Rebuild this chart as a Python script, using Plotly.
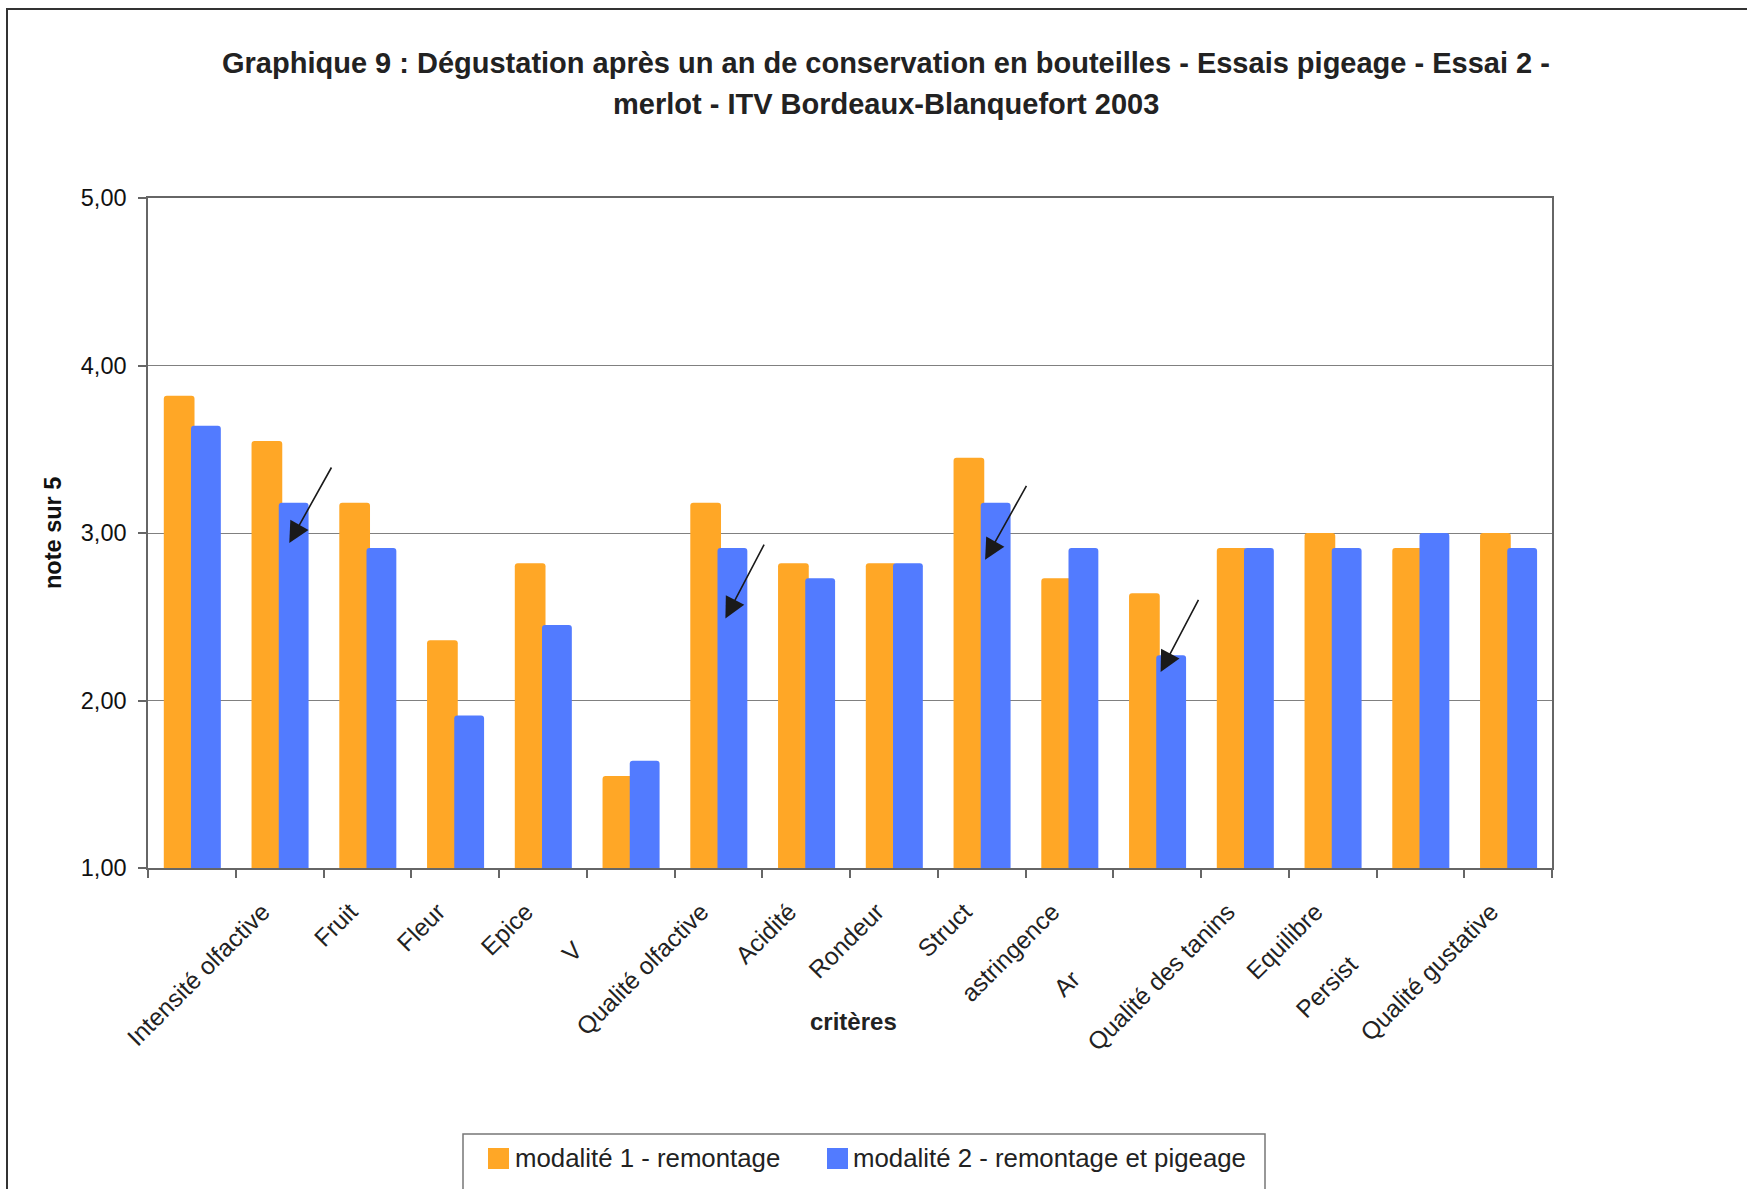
import plotly.graph_objects as go

# Critères de dégustation (axe des abscisses)
NB = "\u00a0"
categories = [
    "",
    "Intensité olfactive",
    "Fruit",
    "Fleur",
    "Epice",
    "V" + NB * 8,
    "Qualité olfactive",
    "Acidité",
    "Rondeur",
    "Struct",
    "astringence",
    "Ar" + NB * 14,
    "Qualité des tanins",
    "Equilibre",
    "Persist" + NB * 11,
    "Qualité gustative",
]

# Notes moyennes sur 5
modalite_1 = [3.82, 3.55, 3.18, 2.36, 2.82, 1.55, 3.18, 2.82,
              2.82, 3.45, 2.73, 2.64, 2.91, 3.00, 2.91, 3.00]
modalite_2 = [3.64, 3.18, 2.91, 1.91, 2.45, 1.64, 2.91, 2.73,
              2.82, 3.18, 2.91, 2.27, 2.91, 2.91, 3.00, 2.91]

series_names = ["modalité 1 - remontage", "modalité 2 - remontage et pigeage"]
y_ticks = [1, 2, 3, 4, 5]

# Flèches signalant les différences (critère, pointe, départ)
arrow_cat = [1, 6, 9, 11]
arrow_tip_dx = [0.11, 0.08, 0.04, 0.04]
arrow_tip_y = [2.94, 2.49, 2.84, 2.17]
arrow_tail_dx = [0.60, 0.53, 0.52, 0.48]
arrow_tail_y = [3.40, 2.94, 3.29, 2.61]

ORANGE = "#FFA726"
BLUE = "#527BFF"
FONT = "Liberation Sans, Arial, sans-serif"

x_pos = list(range(len(categories)))

fig = go.Figure()
fig.add_trace(go.Bar(x=x_pos, y=modalite_1, name=series_names[0],
                     marker=dict(color=ORANGE, line=dict(width=0)),
                     width=0.35, offset=-0.32, showlegend=False))
fig.add_trace(go.Bar(x=x_pos, y=modalite_2, name=series_names[1],
                     marker=dict(color=BLUE, line=dict(width=0)),
                     width=0.34, offset=-0.01, showlegend=False))

W, H = 1747, 1189
L, R, T, B = 148, 1552, 198, 868   # zone de tracé en pixels


def px_x(p):
    return (p - L) / (R - L)


def px_y(p):
    return (B - p) / (B - T)


annotations = []
# Titre sur deux lignes
annotations.append(dict(
    text="Graphique 9 : Dégustation après un an de conservation en bouteilles - Essais pigeage - Essai 2 -",
    xref="paper", yref="paper", x=px_x(886), y=px_y(63), xanchor="center", yanchor="middle",
    showarrow=False, font=dict(family=FONT, size=29, color="#222222", weight="bold")))
annotations.append(dict(
    text="merlot - ITV Bordeaux-Blanquefort 2003",
    xref="paper", yref="paper", x=px_x(886), y=px_y(104), xanchor="center", yanchor="middle",
    showarrow=False, font=dict(family=FONT, size=29, color="#222222", weight="bold")))
# Titres des axes
annotations.append(dict(
    text="note sur 5", textangle=-90,
    xref="paper", yref="paper", x=px_x(53), y=px_y(533), xanchor="center", yanchor="middle",
    showarrow=False, font=dict(family=FONT, size=23.5, color="#111111", weight="bold")))
annotations.append(dict(
    text="critères",
    xref="paper", yref="paper", x=px_x(853), y=px_y(1021), xanchor="center", yanchor="middle",
    showarrow=False, font=dict(family=FONT, size=24, color="#222222", weight="bold")))

# Flèches
for c, tdx, ty, adx, ay in zip(arrow_cat, arrow_tip_dx, arrow_tip_y, arrow_tail_dx, arrow_tail_y):
    annotations.append(dict(
        x=c + tdx, y=ty, ax=c + adx, ay=ay, xref="x", yref="y", axref="x", ayref="y",
        text="", showarrow=True, arrowhead=2, arrowsize=2.6, arrowwidth=1.6,
        arrowcolor="#1a1a1a"))

# Cadre général et légende
shapes = []
shapes.append(dict(type="rect", xref="paper", yref="paper",
                   x0=px_x(7), x1=px_x(1770), y0=px_y(1220), y1=px_y(9),
                   line=dict(color="#333333", width=2), fillcolor="rgba(0,0,0,0)", layer="below"))
shapes.append(dict(type="rect", xref="paper", yref="paper",
                   x0=px_x(463), x1=px_x(1265), y0=px_y(1215), y1=px_y(1134),
                   line=dict(color="#777777", width=1.5), fillcolor="white"))
legend_items = [(488, 513, ORANGE, series_names[0]), (827, 851, BLUE, series_names[1])]
for sq_x, tx, col, name in legend_items:
    shapes.append(dict(type="rect", xref="paper", yref="paper",
                       x0=px_x(sq_x), x1=px_x(sq_x + 21), y0=px_y(1169), y1=px_y(1148),
                       line=dict(width=0), fillcolor=col))
    annotations.append(dict(
        text=name, xref="paper", yref="paper", x=px_x(tx), y=px_y(1158),
        xanchor="left", yanchor="middle", showarrow=False,
        font=dict(family=FONT, size=25.8, color="#222222")))

fig.update_layout(
    width=W, height=H,
    margin=dict(l=L, r=W - R, t=T, b=H - B, pad=0),
    paper_bgcolor="white", plot_bgcolor="white",
    barmode="overlay", barcornerradius=3,
    separators=", ",
    font=dict(family=FONT, color="#111111"),
    annotations=annotations, shapes=shapes,
    showlegend=False,
)

fig.update_xaxes(
    range=[-0.5, len(categories) - 0.5],
    tickmode="array", tickvals=x_pos, ticktext=categories,
    tickangle=-45, ticks="", ticklabelstandoff=18, ticklabelshift=-17,
    tickfont=dict(family=FONT, size=24.5, color="#222222"),
    showline=True, linecolor="#666666", linewidth=1.5, mirror=True,
    showgrid=False, zeroline=False,
    minor=dict(tickmode="array", tickvals=[k - 0.5 for k in range(len(categories) + 1)],
               ticks="outside", ticklen=8, tickcolor="#666666", tickwidth=1.5, showgrid=False),
)
fig.update_yaxes(
    range=[1, 5], tickmode="array", tickvals=y_ticks, tickformat=".2f",
    ticks="outside", ticklen=8, tickcolor="#666666", tickwidth=1.5, ticklabelstandoff=7,
    tickfont=dict(family=FONT, size=23.5, color="#111111"),
    showline=True, linecolor="#666666", linewidth=1.5, mirror=True,
    showgrid=True, gridcolor="#808080", gridwidth=1, zeroline=False,
)

fig.write_html("out.html")
